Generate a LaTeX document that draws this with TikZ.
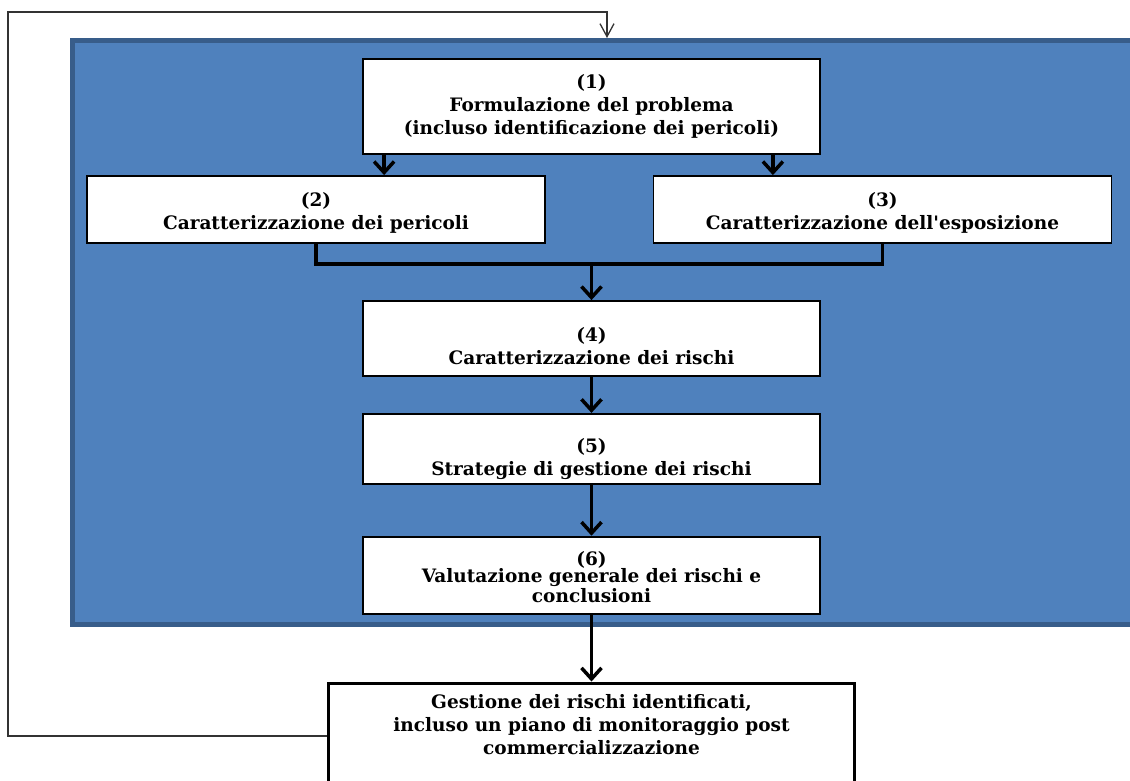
\documentclass[tikz,border=0pt]{standalone}
\usepackage{fontspec}
\newfontfamily\boxfont{DejaVu Serif}
\usetikzlibrary{positioning,arrows.meta}
\definecolor{panelblue}{HTML}{4F81BD}
\definecolor{paneledge}{HTML}{385D8A}

\begin{document}
\begin{tikzpicture}[x=1pt,y=-1pt]
	\tikzstyle{every label}=[align=center, font=\boxfont\bfseries\fontsize{18.5}{23}\selectfont]
	\tikzstyle{box}=[rectangle, fill=white, draw=black, line width=1.8pt, inner sep=0pt, minimum width=457pt]
	\tikzstyle{connect}=[-{Straight Barb[length=11pt,width=20pt]}, line width=3.5pt]
	\tikzstyle{feedback}=[-{Straight Barb[length=13pt,width=14pt]}, line width=1.3pt, draw=black!80]
	\clip (0,0) rectangle (1130,780);
	\node[rectangle, fill=panelblue, draw=paneledge, line width=5pt, inner sep=0pt, minimum width=1070pt, minimum height=583.5pt] (panel) at (607,332.25) {};
	\node[box, minimum height=95pt] (prob) at (591.5,106.5) [label=center:{(1)\\Formulazione del problema\\(incluso identificazione dei pericoli)}] {};
	\node[box, minimum width=458pt, minimum height=67pt] (haz) at (316,209.5) [label={[yshift=-3pt]center:{(2)\\Caratterizzazione dei pericoli}}] {};
	\node[box, minimum width=458pt, minimum height=67pt] (expo) at (882.5,209.5) [label={[yshift=-3pt]center:{(3)\\Caratterizzazione dell'esposizione}}] {};
	\node[box, minimum height=75pt] (risk) at (591.5,338.5) [label={[yshift=-8pt]center:{(4)\\Caratterizzazione dei rischi}}] {};
	\node[box, minimum height=70pt] (strat) [below=36pt of risk, label={[yshift=-10pt]center:{(5)\\Strategie di gestione dei rischi}}] {};
	\node[box, minimum height=77pt] (val) [below=51pt of strat, label={[yshift=-2pt, font=\boxfont\bfseries\fontsize{18.5}{17}\selectfont]center:{(6)\\Valutazione generale dei rischi e\\conclusioni}}] {};
	\node[box, line width=3pt, minimum width=526pt, minimum height=106pt] (gest) [below=67pt of val, label={[yshift=11pt]center:{Gestione dei rischi identificati,\\incluso un piano di monitoraggio post\\commercializzazione}}] {};
	\coordinate (join) at ([yshift=-20pt]haz.south -| risk.north);
	\coordinate (loop) at (8,12);
	\draw[connect] ([xshift=22pt]prob.south west) -- ([xshift=22pt]prob.south west |- haz.north);
	\draw[connect] ([xshift=-48pt]prob.south east) -- ([xshift=-48pt]prob.south east |- expo.north);
	\draw[line width=3.5pt] (haz.south) |- (join) -| (expo.south);
	\draw[connect] (join) -- (risk.north);
	\draw[connect] (risk) -- (strat);
	\draw[connect] (strat) -- (val);
	\draw[connect] (val) -- (gest);
	\draw[feedback] (gest.west) -| (loop) -| (panel.north);
\end{tikzpicture}
\end{document}
